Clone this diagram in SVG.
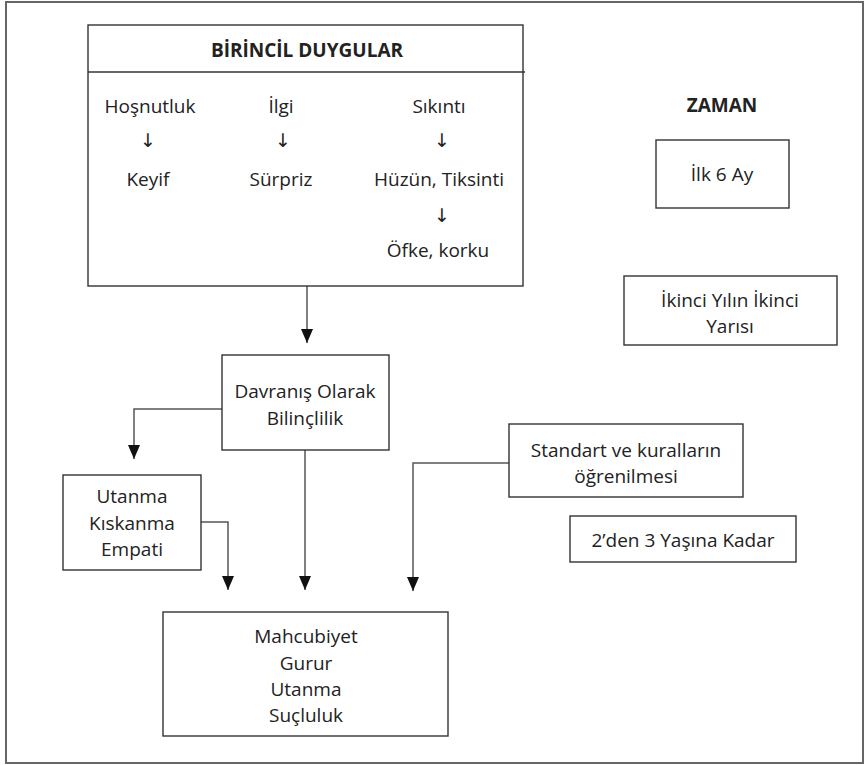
<svg xmlns="http://www.w3.org/2000/svg" width="865" height="765" viewBox="0 0 865 765">
<defs>
<style>
.t{font-family:"Open Sans","Noto Sans","Liberation Sans",sans-serif;font-size:19px;fill:#222;text-anchor:middle}
.b{font-weight:bold}
.ar{font-family:"DejaVu Sans","Liberation Sans",sans-serif;font-size:19px;fill:#222;text-anchor:middle}
.box{fill:#fff;stroke:#333;stroke-width:1.4}
.ln{fill:none;stroke:#555;stroke-width:1.5}
</style>
<marker id="ah" viewBox="0 0 14 12" refX="14" refY="6" markerWidth="14" markerHeight="12" markerUnits="userSpaceOnUse" orient="auto">
<path d="M0,0 L14,6 L0,12 Z" fill="#111"/>
</marker>
</defs>
<rect x="0" y="0" width="865" height="765" fill="#fff"/>
<rect id="frame" x="6" y="2" width="857" height="761" fill="none" stroke="#666" stroke-width="2"/>

<g id="connectors">
<path class="ln" d="M307,286 V343" marker-end="url(#ah)"/>
<path class="ln" d="M252,409 H134 V459" marker-end="url(#ah)"/>
<path class="ln" d="M201,522 H228 V590" marker-end="url(#ah)"/>
<path class="ln" d="M305,450 V590" marker-end="url(#ah)"/>
<path class="ln" d="M509,463 H413 V591" marker-end="url(#ah)"/>
</g>

<g id="birincil">
<rect class="box" x="88" y="25" width="435" height="261"/>
<line x1="88" y1="72" x2="525" y2="72" stroke="#333" stroke-width="1.4"/>
<text class="t b" x="307" y="57">BİRİNCİL DUYGULAR</text>
<text class="t" x="150" y="113">Hoşnutluk</text>
<text class="ar" x="148" y="147">↓</text>
<text class="t" x="148" y="186">Keyif</text>
<text class="t" x="281" y="113">İlgi</text>
<text class="ar" x="283" y="147">↓</text>
<text class="t" x="281" y="186">Sürpriz</text>
<text class="t" x="439" y="113">Sıkıntı</text>
<text class="ar" x="442" y="147">↓</text>
<text class="t" x="439" y="186">Hüzün, Tiksinti</text>
<text class="ar" x="442" y="222">↓</text>
<text class="t" x="438" y="257">Öfke, korku</text>
</g>

<g id="zaman">
<text class="t b" x="722" y="112">ZAMAN</text>
</g>

<g id="ilk6ay">
<rect class="box" x="656" y="140" width="133" height="68"/>
<text class="t" x="722" y="181">İlk 6 Ay</text>
</g>

<g id="ikinciyil">
<rect class="box" x="624" y="276" width="213" height="69"/>
<text class="t" x="730" y="307">İkinci Yılın İkinci</text>
<text class="t" x="730" y="333">Yarısı</text>
</g>

<g id="davranis">
<rect class="box" x="222" y="355" width="167" height="95"/>
<text class="t" x="305" y="398">Davranış Olarak</text>
<text class="t" x="305" y="425">Bilinçlilik</text>
</g>

<g id="standart">
<rect class="box" x="509" y="424" width="234" height="73"/>
<text class="t" x="626" y="457">Standart ve kuralların</text>
<text class="t" x="626" y="483">öğrenilmesi</text>
</g>

<g id="yas23">
<rect class="box" x="570" y="516" width="226" height="46"/>
<text class="t" x="683" y="547">2’den 3 Yaşına Kadar</text>
</g>

<g id="utanma">
<rect class="box" x="63" y="475" width="138" height="95"/>
<text class="t" x="132" y="503">Utanma</text>
<text class="t" x="132" y="530">Kıskanma</text>
<text class="t" x="132" y="556">Empati</text>
</g>

<g id="mahcubiyet">
<rect class="box" x="163" y="612" width="285" height="124"/>
<text class="t" x="306" y="643">Mahcubiyet</text>
<text class="t" x="306" y="670">Gurur</text>
<text class="t" x="306" y="696">Utanma</text>
<text class="t" x="306" y="722">Suçluluk</text>
</g>
</svg>
